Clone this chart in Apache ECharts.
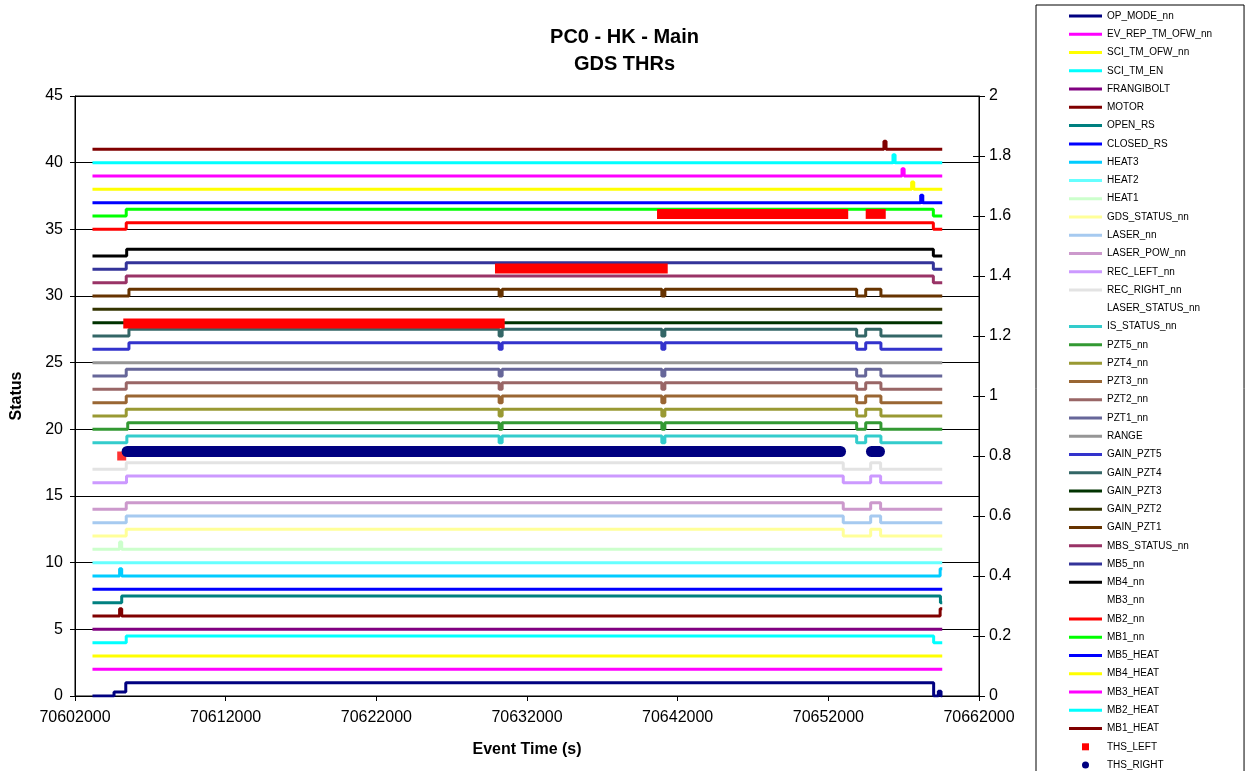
<!DOCTYPE html>
<html>
<head>
<meta charset="utf-8">
<title>PC0 - HK - Main / GDS THRs</title>
<script src="https://cdn.jsdelivr.net/npm/echarts@6/dist/echarts.min.js"></script>
<style>
  html, body { margin: 0; padding: 0; background: #ffffff; }
  #chart { width: 1249px; height: 771px; }
</style>
</head>
<body>
<div id="chart"></div>
<script>
// ---- Axis ticks ----
const xTicks = [70602000, 70612000, 70622000, 70632000, 70642000, 70652000, 70662000];
const leftTicks = [0, 5, 10, 15, 20, 25, 30, 35, 40, 45];
const rightTicks = [0, 0.2, 0.4, 0.6, 0.8, 1, 1.2, 1.4, 1.6, 1.8, 2];

// Last sample time; every status line is held at its last level until here.
const END_TIME = 70659560;

// ---- Status lines: [event time (s), level] change points ----
const OP_MODE_nn       = [[70603160, 0], [70604590, 0.3], [70605370, 1], [70658990, 0], [70659300, 0.35], [70659480, 0]];
const EV_REP_TM_OFW_nn = [[70603160, 2]];
const SCI_TM_OFW_nn    = [[70603160, 3]];
const SCI_TM_EN        = [[70603160, 4], [70605400, 4.5], [70658990, 4]];
const FRANGIBOLT       = [[70603160, 5]];
const MOTOR            = [[70603160, 6], [70604960, 6.55], [70605100, 6], [70659420, 6.55]];
const OPEN_RS          = [[70603160, 7], [70605100, 7.5], [70659440, 7]];
const CLOSED_RS        = [[70603160, 8]];
const HEAT3            = [[70603160, 9], [70604960, 9.55], [70605100, 9], [70659420, 9.55]];
const HEAT2            = [[70603160, 10]];
const HEAT1            = [[70603160, 11], [70604960, 11.55], [70605100, 11]];
const GDS_STATUS_nn    = [[70603160, 12], [70605400, 12.5], [70652990, 12], [70654810, 12.5], [70655470, 12]];
const LASER_nn         = [[70603160, 13], [70605400, 13.5], [70652990, 13], [70654810, 13.5], [70655470, 13]];
const LASER_POW_nn     = [[70603160, 14], [70605400, 14.5], [70652990, 14], [70654810, 14.5], [70655470, 14]];
const REC_LEFT_nn      = [[70603160, 16], [70605420, 16.5], [70652990, 16], [70654810, 16.5], [70655470, 16]];
const REC_RIGHT_nn     = [[70603160, 17], [70605400, 17.5], [70652990, 17], [70654810, 17.5], [70655470, 17]];
const LASER_STATUS_nn  = [[70603160, 18]];
const IS_STATUS_nn     = [[70603160, 19], [70605440, 19.5], [70630150, 19], [70630350, 19.5], [70640950, 19], [70641150, 19.5], [70653880, 19], [70654480, 19.5], [70655490, 19]];
const PZT5_nn          = [[70603160, 20], [70605500, 20.5], [70630150, 20], [70630350, 20.5], [70640950, 20], [70641150, 20.5], [70653880, 20], [70654480, 20.5], [70655490, 20]];
const PZT4_nn          = [[70603160, 21], [70605400, 21.5], [70630150, 21], [70630350, 21.5], [70640950, 21], [70641150, 21.5], [70653880, 21], [70654480, 21.5], [70655490, 21]];
const PZT3_nn          = [[70603160, 22], [70605400, 22.5], [70630150, 22], [70630350, 22.5], [70640950, 22], [70641150, 22.5], [70653880, 22], [70654480, 22.5], [70655490, 22]];
const PZT2_nn          = [[70603160, 23], [70605400, 23.5], [70630150, 23], [70630350, 23.5], [70640950, 23], [70641150, 23.5], [70653880, 23], [70654480, 23.5], [70655490, 23]];
const PZT1_nn          = [[70603160, 24], [70605400, 24.5], [70630150, 24], [70630350, 24.5], [70640950, 24], [70641150, 24.5], [70653880, 24], [70654480, 24.5], [70655490, 24]];
const RANGE            = [[70603160, 25]];
const GAIN_PZT5        = [[70603160, 26], [70605580, 26.5], [70630150, 26], [70630350, 26.5], [70640950, 26], [70641150, 26.5], [70653880, 26], [70654480, 26.5], [70655490, 26]];
const GAIN_PZT4        = [[70603160, 27], [70605580, 27.5], [70630150, 27], [70630350, 27.5], [70640950, 27], [70641150, 27.5], [70653880, 27], [70654480, 27.5], [70655490, 27]];
const GAIN_PZT3        = [[70603160, 28]];
const GAIN_PZT2        = [[70603160, 29]];
const GAIN_PZT1        = [[70603160, 30], [70605580, 30.5], [70630150, 30], [70630350, 30.5], [70640950, 30], [70641150, 30.5], [70653880, 30], [70654480, 30.5], [70655490, 30]];
const MBS_STATUS_nn    = [[70603160, 31], [70605400, 31.5], [70658970, 31]];
const MB5_nn           = [[70603160, 32], [70605400, 32.5], [70658970, 32]];
const MB4_nn           = [[70603160, 33], [70605430, 33.5], [70658970, 33]];
const MB3_nn           = [[70603160, 34]];
const MB2_nn           = [[70603160, 35], [70605400, 35.5], [70658970, 35]];
const MB1_nn           = [[70603160, 36], [70605400, 36.5], [70658970, 36]];
const MB5_HEAT         = [[70603160, 37], [70658130, 37.55], [70658270, 37]];
const MB4_HEAT         = [[70603160, 38], [70657530, 38.55], [70657670, 38]];
const MB3_HEAT         = [[70603160, 39], [70656890, 39.55], [70657030, 39]];
const MB2_HEAT         = [[70603160, 40], [70656290, 40.6], [70656430, 40]];
const MB1_HEAT         = [[70603160, 41], [70655690, 41.6], [70655830, 41]];

// ---- Thresholds (right axis): runs of samples, [start, end, level] ----
const THS_LEFT_runs  = [[70605205, 70630520, 1.242], [70629875, 70641340, 1.425], [70640630, 70653320, 1.607], [70654480, 70655810, 1.607]];
const THS_LEFT_point = [[70605100, 0.80]];
const THS_RIGHT_runs = [[70605460, 70652810, 0.815], [70654865, 70655395, 0.815]];

// ---- Legend order, with the matching line data and colour ----
const statusNames = [
  'OP_MODE_nn', 'EV_REP_TM_OFW_nn', 'SCI_TM_OFW_nn', 'SCI_TM_EN', 'FRANGIBOLT', 'MOTOR', 'OPEN_RS', 'CLOSED_RS',
  'HEAT3', 'HEAT2', 'HEAT1', 'GDS_STATUS_nn', 'LASER_nn', 'LASER_POW_nn', 'REC_LEFT_nn', 'REC_RIGHT_nn',
  'LASER_STATUS_nn', 'IS_STATUS_nn', 'PZT5_nn', 'PZT4_nn', 'PZT3_nn', 'PZT2_nn', 'PZT1_nn', 'RANGE',
  'GAIN_PZT5', 'GAIN_PZT4', 'GAIN_PZT3', 'GAIN_PZT2', 'GAIN_PZT1', 'MBS_STATUS_nn', 'MB5_nn', 'MB4_nn',
  'MB3_nn', 'MB2_nn', 'MB1_nn', 'MB5_HEAT', 'MB4_HEAT', 'MB3_HEAT', 'MB2_HEAT', 'MB1_HEAT'
];
const statusData = [
  OP_MODE_nn, EV_REP_TM_OFW_nn, SCI_TM_OFW_nn, SCI_TM_EN, FRANGIBOLT, MOTOR, OPEN_RS, CLOSED_RS,
  HEAT3, HEAT2, HEAT1, GDS_STATUS_nn, LASER_nn, LASER_POW_nn, REC_LEFT_nn, REC_RIGHT_nn,
  LASER_STATUS_nn, IS_STATUS_nn, PZT5_nn, PZT4_nn, PZT3_nn, PZT2_nn, PZT1_nn, RANGE,
  GAIN_PZT5, GAIN_PZT4, GAIN_PZT3, GAIN_PZT2, GAIN_PZT1, MBS_STATUS_nn, MB5_nn, MB4_nn,
  MB3_nn, MB2_nn, MB1_nn, MB5_HEAT, MB4_HEAT, MB3_HEAT, MB2_HEAT, MB1_HEAT
];
const NONE = 'rgba(0,0,0,0)';
const statusColors = [
  '#000080', '#FF00FF', '#FFFF00', '#00FFFF', '#800080', '#800000', '#008080', '#0000FF',
  '#00CCFF', '#66FFFF', '#CCFFCC', '#FFFF99', '#A6CAF0', '#CC99CC', '#CC99FF', '#E3E3E3',
  NONE, '#33CCCC', '#339933', '#999933', '#996633', '#996666', '#666699', '#969696',
  '#3333CC', '#336666', '#003300', '#333300', '#663300', '#993366', '#333399', '#000000',
  NONE, '#FF0000', '#00FF00', '#0000FF', '#FFFF00', '#FF00FF', '#00FFFF', '#800000'
];

const FONT = '"Liberation Sans", Arial, sans-serif';

// Legend icons sized to the 33x7 icon box: a 3px stroke, a small square, a small dot.
const ICON_LINE = 'path://M0,0M33,7M0,2h33v3h-33z';
const ICON_SQUARE = 'path://M0,0M33,7M13,0h7v7h-7z';

function statusSeries(name, points, color) {
  const data = points.concat([[END_TIME, points[points.length - 1][1]]]);
  return {
    name: name, type: 'line', step: 'end', data: data,
    xAxisIndex: 0, yAxisIndex: 0,
    symbol: 'none', silent: true, animation: false,
    lineStyle: { color: color, width: 3 },
    itemStyle: { color: color }
  };
}

function runSeries(name, run, color, width, cap) {
  return {
    name: name, type: 'line', xAxisIndex: 0, yAxisIndex: 1,
    data: [[run[0], run[2]], [run[1], run[2]]],
    symbol: 'none', silent: true, animation: false, z: 5,
    lineStyle: { color: color, width: width, cap: cap },
    itemStyle: { color: color }
  };
}

const series = statusNames.map((n, i) => statusSeries(n, statusData[i], statusColors[i]));
THS_LEFT_runs.forEach(r => series.push(runSeries('THS_LEFT', r, '#FF0000', 10, 'butt')));
series.push({
  name: 'THS_LEFT', type: 'scatter', xAxisIndex: 0, yAxisIndex: 1, data: THS_LEFT_point,
  symbol: 'rect', symbolSize: 9, silent: true, animation: false, z: 4,
  itemStyle: { color: '#FF0000' }
});
THS_RIGHT_runs.forEach(r => series.push(runSeries('THS_RIGHT', r, '#000080', 11, 'round')));

const legendData = statusNames.map(n => ({ name: n, icon: ICON_LINE }));
legendData.push({ name: 'THS_LEFT', icon: ICON_SQUARE });
legendData.push({ name: 'THS_RIGHT', icon: 'circle' });

const chart = echarts.init(document.getElementById('chart'), null, { renderer: 'canvas' });
chart.setOption({
  backgroundColor: '#ffffff',
  animation: false,
  textStyle: { fontFamily: FONT },
  title: {
    text: 'PC0 - HK - Main\nGDS THRs',
    left: 'center', top: 19,
    textStyle: { fontFamily: FONT, fontSize: 20, fontWeight: 'bold', color: '#000', lineHeight: 27 }
  },
  legend: {
    orient: 'vertical', left: 1036, top: 5, height: 790,
    padding: [5, 32, 5, 33],
    itemWidth: 33, itemHeight: 7, itemGap: 6.27,
    borderColor: '#000', borderWidth: 1, backgroundColor: '#fff',
    selectedMode: false,
    itemStyle: { borderWidth: 0 },
    textStyle: { fontFamily: FONT, fontSize: 10, color: '#000', lineHeight: 12 },
    data: legendData
  },
  grid: {
    left: 75, right: 270, top: 96, bottom: 75,
    show: true, borderColor: '#000', borderWidth: 1, backgroundColor: '#fff'
  },
  xAxis: [{
    type: 'value', min: xTicks[0], max: xTicks[xTicks.length - 1], interval: xTicks[1] - xTicks[0],
    name: 'Event Time (s)', nameLocation: 'middle', nameGap: 46,
    nameTextStyle: { fontFamily: FONT, fontSize: 16, fontWeight: 'bold', color: '#000' },
    axisLine: { onZero: false, lineStyle: { color: '#000', width: 1 } },
    axisTick: { show: true, inside: false, length: 5, lineStyle: { color: '#000' } },
    axisLabel: { margin: 14, fontFamily: FONT, fontSize: 16, color: '#000', formatter: v => String(v) },
    splitLine: { show: false }
  }],
  yAxis: [{
    type: 'value', position: 'left', min: leftTicks[0], max: leftTicks[leftTicks.length - 1],
    interval: leftTicks[1] - leftTicks[0],
    name: 'Status', nameLocation: 'middle', nameGap: 50, nameRotate: 90,
    nameTextStyle: { fontFamily: FONT, fontSize: 16, fontWeight: 'bold', color: '#000' },
    axisLine: { show: true, onZero: false, lineStyle: { color: '#000', width: 1 } },
    axisTick: { show: true, inside: false, length: 5, lineStyle: { color: '#000' } },
    axisLabel: { margin: 12, fontFamily: FONT, fontSize: 16, color: '#000' },
    splitLine: { show: true, lineStyle: { color: '#000', width: 1 } }
  }, {
    type: 'value', position: 'right', min: rightTicks[0], max: rightTicks[rightTicks.length - 1],
    interval: 0.2,
    axisLine: { show: true, onZero: false, lineStyle: { color: '#000', width: 1 } },
    axisTick: { show: true, inside: false, length: 6, lineStyle: { color: '#000' } },
    axisLabel: { margin: 10, fontFamily: FONT, fontSize: 16, color: '#000', formatter: v => String(+v.toFixed(1)) },
    splitLine: { show: false }
  }, {
    type: 'value', position: 'right', min: rightTicks[0], max: rightTicks[rightTicks.length - 1],
    interval: 0.2,
    axisLine: { show: false },
    axisTick: { show: true, inside: true, length: 6, lineStyle: { color: '#000' } },
    axisLabel: { show: false },
    splitLine: { show: false }
  }],
  series: series
});
</script>
</body>
</html>
